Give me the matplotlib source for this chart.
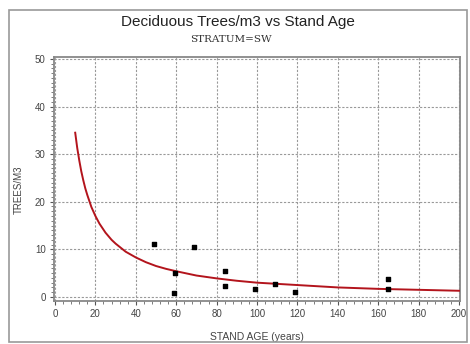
import matplotlib.pyplot as plt
from matplotlib.patches import Rectangle
from matplotlib.ticker import MultipleLocator

# observed stands
age = [49, 59.5, 59, 69, 84, 84, 99, 109, 119, 165, 165]
trees = [11.1, 5.1, 0.8, 10.5, 5.4, 2.3, 1.6, 2.8, 1.1, 3.7, 1.6]

# fitted curve
fit_age = [10, 11, 12, 13, 14, 15, 16, 18, 20, 22, 25, 28, 30, 35, 40, 45, 50, 55,
           60, 70, 80, 90, 100, 120, 140, 160, 180, 200]
fit_trees = [34.5, 31.3, 28.7, 26.4, 24.5, 22.8, 21.4, 18.9, 17.0, 15.4, 13.5, 12.0,
             11.2, 9.5, 8.3, 7.3, 6.5, 5.9, 5.4, 4.5, 3.9, 3.4, 3.0, 2.5, 2.0,
             1.7, 1.5, 1.3]

plt.rcParams['font.family'] = ['Liberation Sans', 'DejaVu Sans']

fig = plt.figure(figsize=(4.7, 3.44), dpi=100)
ax = fig.add_axes([54 / 470, 1 - 301 / 344, 406 / 470, 244 / 344])

# grey frame round the whole picture
fig.patches.append(Rectangle((9 / 470, 2 / 344), 458 / 470, 332 / 344,
                             transform=fig.transFigure, fill=False,
                             edgecolor='#999999', linewidth=1.2))

ax.plot(fit_age, fit_trees, color='#b3141c', linewidth=1.4, zorder=3)
ax.scatter(age, trees, marker='s', s=5, color='black', zorder=4)

ax.set_xlim(-0.5, 200.5)
ax.set_ylim(-0.85, 50.4)
ax.xaxis.set_major_locator(MultipleLocator(20))
ax.xaxis.set_minor_locator(MultipleLocator(4))
ax.yaxis.set_major_locator(MultipleLocator(10))
ax.yaxis.set_minor_locator(MultipleLocator(1))
ax.grid(True, which='major', color='#999999', linestyle=(0, (2, 1.5)), linewidth=0.8)

for s in ax.spines.values():
    s.set_color('#888888')
    s.set_linewidth(1.3)
ax.tick_params(which='major', direction='out', length=3, width=0.8,
               color='#555555', labelsize=7, labelcolor='#444444', pad=3)
ax.tick_params(which='minor', direction='out', length=2, width=0.6, color='#666666')

ax.set_xlabel('STAND AGE (years)', fontsize=7.5, color='#444444')
ax.set_ylabel('TREES/M3', fontsize=7, color='#444444')
ax.xaxis.set_label_coords(0.5, -0.125)
ax.yaxis.set_label_coords(-0.074, 0.455)

fig.text(238 / 470, 1 - 22 / 344, 'Deciduous Trees/m3 vs Stand Age',
         ha='center', va='center', fontsize=11, color='#222222')
fig.text(231 / 470, 1 - 40 / 344, 'STRATUM=SW', ha='center', va='center',
         fontsize=7.5, family='DejaVu Serif', color='#333333')

fig.savefig('out.png', dpi=100)
